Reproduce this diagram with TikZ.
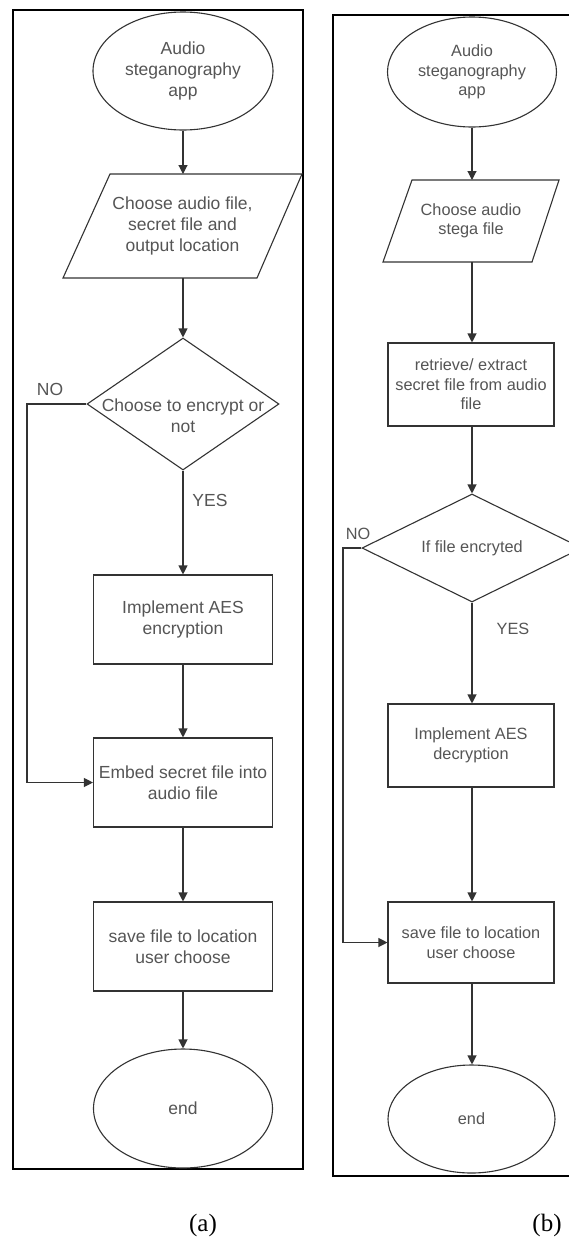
\documentclass[tikz,border=0pt]{standalone}
\usepackage{fontspec}
\setmainfont{Liberation Sans}
\newfontfamily\capfont{Liberation Serif}
\usetikzlibrary{shapes.geometric,arrows.meta}
\definecolor{txtgrey}{HTML}{555555}
\definecolor{linegrey}{HTML}{333333}
\tikzset{
  shapeline/.style={draw=linegrey, line width=1.1pt},
  lefttext/.style={text=txtgrey, align=center, font=\fontsize{17.5}{21}\selectfont, inner sep=0pt},
  righttext/.style={text=txtgrey, align=center, font=\fontsize{16.3}{19.5}\selectfont, inner sep=0pt},
  oval/.style={shapeline, ellipse, inner sep=0pt},
  boxnode/.style={shapeline, rectangle, inner sep=0pt},
  dia/.style={shapeline, diamond, inner sep=0pt},
  conn/.style={draw=linegrey, line width=1.1pt, -{Triangle[width=9pt,length=9pt]}},
  frame/.style={draw=black, line width=2.4pt},
  lbl/.style={text=txtgrey, inner sep=0pt},
  captext/.style={font=\capfont\fontsize{25}{30}\selectfont, inner sep=0pt}
}
\begin{document}
\begin{tikzpicture}[x=1pt,y=-1pt]
\useasboundingbox (0,0) rectangle (569,1240);
\clip (0,0) rectangle (569,1240);
\fill[white] (0,0) rectangle (569,1240);

% ---------------- panel (a) ----------------
\draw[frame] (13,10) rectangle (303,1169);

\node[oval, minimum width=180pt, minimum height=118pt] (e1) at (183,71) {};
\node[lefttext] (e1t) at (e1) {Audio\\steganography\\app};

\draw[shapeline] (110,174) -- (302,174) -- (257,278) -- (63,278) -- cycle;
\coordinate (p1t) at (183,174);
\coordinate (p1b) at (183,278);
\node[lefttext] (p1) at (182.5,226) {Choose audio file,\\secret file and\\output location};

\node[dia, minimum width=192pt, minimum height=132pt] (d1) at (183,404) {};
\node[lefttext] (d1t) at (183,416) {Choose to encrypt or\\not};

\node[boxnode, minimum width=179pt, minimum height=89pt, lefttext, draw=linegrey] (b1) at (183,619.5) {Implement AES\\encryption};
\node[boxnode, minimum width=179pt, minimum height=89pt, lefttext, draw=linegrey] (b2) at (183,782.5) {Embed secret file into\\audio file};
\node[boxnode, minimum width=179pt, minimum height=89pt, lefttext, draw=linegrey] (b3) at (183,946.5) {save file to location\\user choose};
\node[oval, minimum width=179pt, minimum height=119pt, lefttext, draw=linegrey] (e2) at (183,1108.5) {end};

\draw[conn] (e1.south) -- (p1t);
\draw[conn] (p1b) -- (d1.north);
\draw[conn] (d1.south) -- (b1.north);
\draw[conn] (b1.south) -- (b2.north);
\draw[conn] (b2.south) -- (b3.north);
\draw[conn] (b3.south) -- (e2.north);
\coordinate (n1) at (27,404);
\draw[conn] (d1.west) -- (n1) |- (b2.west);

\node[lbl, font=\fontsize{17.5}{21}\selectfont] (no1) at (50,389) {NO};
\node[lbl, font=\fontsize{17.5}{21}\selectfont] (yes1) at (210,500) {YES};

% ---------------- panel (b) ----------------
\draw[frame] (333,15) rectangle (640,1176);

\node[oval, minimum width=169pt, minimum height=110pt] (f1) at (472,72) {};
\node[righttext] (f1t) at (f1) {Audio\\steganography\\app};

\draw[shapeline] (412,180) -- (559,180) -- (532,262) -- (383,262) -- cycle;
\coordinate (p2t) at (472,180);
\coordinate (p2b) at (472,262);
\node[righttext] (p2) at (471,221) {Choose audio\\stega file};

\node[boxnode, minimum width=166pt, minimum height=83pt, righttext, draw=linegrey] (r1) at (471,384.5) {retrieve/ extract\\secret file from audio\\file};

\node[dia, minimum width=220pt, minimum height=108pt] (d2) at (472,548) {};
\node[righttext] (d2t) at (d2) {If file encryted};

\node[boxnode, minimum width=166pt, minimum height=83pt, righttext, draw=linegrey] (r2) at (471,745.5) {Implement AES\\decryption};
\node[boxnode, minimum width=166pt, minimum height=81pt, righttext, draw=linegrey] (r3) at (471,942.5) {save file to location\\user choose};
\node[oval, minimum width=167pt, minimum height=108pt, righttext, draw=linegrey] (f2) at (471.5,1119) {end};

\draw[conn] (f1.south) -- (p2t);
\draw[conn] (p2b) -- (r1.north -| p2b);
\draw[conn] (r1.south -| d2.north) -- (d2.north);
\draw[conn] (d2.south) -- (d2.south |- r2.north);
\draw[conn] (r2.south -| d2.south) -- (r3.north -| d2.south);
\draw[conn] (r3.south -| d2.south) -- (f2.north -| d2.south);
\coordinate (n2) at (343,548);
\draw[conn] (d2.west) -- (n2) |- (r3.west);

\node[lbl, font=\fontsize{16.3}{19.5}\selectfont] (no2) at (358,534) {NO};
\node[lbl, font=\fontsize{16.3}{19.5}\selectfont] (yes2) at (513,629) {YES};

% captions
\node[captext] (capa) at (203,1225) {(a)};
\node[captext] (capb) at (547,1225) {(b)};
\end{tikzpicture}
\end{document}
